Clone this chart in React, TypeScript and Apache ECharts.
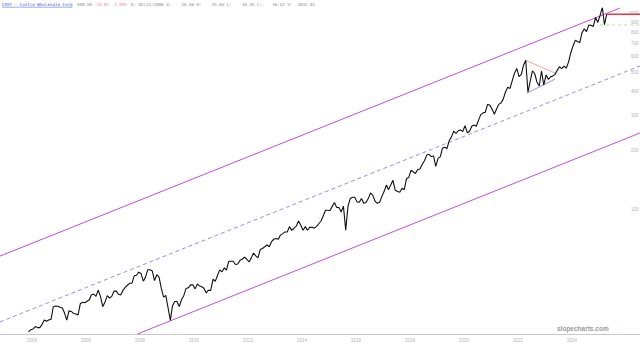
import React, { useEffect, useRef } from "react";
import * as echarts from "echarts";

// monthly (mid-month) adjusted closes, starting Nov 2003
const firstYear = 2003;
const firstMonthIndex = 10; // November
const p2003 = [23.6, 24.2];
const p2004 = [24.4, 25.1, 24.8, 24.8, 25.7, 27.1, 26.7, 27.1, 27.4, 31.7, 32.0, 31.9];
const p2005 = [31.5, 31.2, 29.5, 27.1, 30.2, 30.0, 29.3, 29.1, 28.8, 32.8, 33.4, 33.2];
const p2006 = [33.8, 34.4, 36.5, 36.8, 35.8, 38.5, 35.8, 31.7, 33.5, 36.1, 35.1, 35.8];
const p2007 = [38.1, 38.1, 36.7, 36.4, 38.4, 39.8, 40.8, 41.8, 41.8, 45.6, 45.9, 47.6];
const p2008 = [46.9, 42.8, 44.9, 49.0, 49.0, 48.3, 43.1, 46.2, 44.9, 39.3, 35.5, 36.2];
const p2009 = [31.3, 27.0, 32.0, 33.7, 33.7, 31.8, 34.4, 36.1, 39.3, 39.6, 41.0, 41.0];
const p2010 = [39.1, 41.4, 40.5, 40.1, 39.4, 37.3, 38.5, 38.4, 43.8, 42.7, 45.9, 48.9];
const p2011 = [47.8, 50.1, 48.7, 54.1, 54.1, 54.1, 52.1, 52.4, 54.7, 55.4, 56.8, 55.4];
const p2012 = [53.7, 56.3, 59.6, 57.7, 56.3, 62.2, 62.9, 64.2, 65.5, 64.2, 68.2, 70.1];
const p2013 = [70.8, 70.1, 73.6, 74.9, 76.4, 76.4, 81.3, 77.8, 79.8, 81.9, 86.8, 82.6];
const p2014 = [77.9, 81.3, 77.9, 80.6, 80.6, 80.0, 81.3, 84.1, 86.9, 92.4, 98.6, 98.6];
const p2015 = [98.3, 103.5, 107.9, 101.8, 101.8, 96.6, 103.5, 78.0, 103.5, 113.1, 114.8, 114.8];
const p2016 = [108.8, 108.3, 113.1, 107.0, 107.9, 113.1, 120.9, 117.5, 109.6, 107.0, 108.3, 115.7];
const p2017 = [122.8, 132.6, 125.5, 132.6, 140.2, 124.6, 122.8, 121.9, 127.7, 125.5, 143.3, 145.1];
const p2018 = [158.2, 154.6, 151.8, 159.2, 160.1, 169.3, 176.6, 188.6, 190.4, 185.4, 186.8, 165.1];
const p2019 = [181.5, 185.3, 204.3, 207.1, 203.3, 223.3, 233.7, 249.9, 243.2, 250.8, 253.7, 248.9];
const p2020 = [266.8, 245.4, 248.8, 264.8, 268.7, 264.8, 283.7, 303.6, 309.9, 312.3, 342.4, 339.5];
const p2021 = [323.7, 304.9, 323.7, 342.5, 348.0, 364.3, 396.0, 418.8, 413.3, 452.9, 496.0, 522.7];
const p2022 = [475, 488, 541, 575, 395, 450, 508.5, 491, 444, 425, 507, 429];
const p2023 = [485, 460, 472, 478, 486, 511, 533, 521.5, 537, 524, 563, 627];
const p2024 = [681, 729, 718, 708.5, 794, 833, 805.5, 870, 869, 856.5, 952.5, 898];
const p2025 = [975, 1070, 875, 990];

const monthlyPrices = [
  ...p2003, ...p2004, ...p2005, ...p2006, ...p2007, ...p2008, ...p2009, ...p2010,
  ...p2011, ...p2012, ...p2013, ...p2014, ...p2015, ...p2016, ...p2017, ...p2018,
  ...p2019, ...p2020, ...p2021, ...p2022, ...p2023, ...p2024, ...p2025,
];

const xAxisMin = "2002-10-25";
const xAxisMax = "2026-07-09";
const yAxisMin = 23.0;
const yAxisMax = 1064;

const xTickLabels = ["2004", "2006", "2008", "2010", "2012", "2014", "2016", "2018", "2020", "2022", "2024"];
const yTickLabels = [100, 200, 300, 400, 500, 600, 700, 800, 900, 1000];
const yLabelDate = "2026-06-20";

const upperChannel = [["2002-10-25", 57.5], ["2025-10-12", 1064]];
const midChannel = [["2002-10-25", 26.5], ["2026-07-09", 538]];
const lowerChannel = [["2007-11-27", 23.0], ["2026-07-09", 244.6]];
const triangleTop = [["2022-04-05", 577], ["2023-05-15", 495]];
const triangleBottom = [["2022-05-01", 391], ["2023-05-15", 461]];
const supportLevel = 871;
const supportStart = "2025-01-15";

const headerName = "COST - Costco Wholesale Corp";
const headerLast = "990.50";
const headerChange = "-10.85 -1.09%";
const headerRest = "D: 02/21/2006 O:    16.56 H:    55.65 L:    16.45 C:    16.52 V:  2042.82";

function monthDate(i: number) {
  return Date.UTC(firstYear, firstMonthIndex + i, 15);
}
function ts(s: string) {
  return new Date(s + "T00:00:00Z").getTime();
}

export default function App() {
  const ref = useRef<HTMLDivElement>(null);
  useEffect(() => {
    if (!ref.current) return;
    const chart = echarts.init(ref.current, undefined, { renderer: "svg" });
    const priceData = monthlyPrices.map((v, i) => [monthDate(i), v]);
    const lastPoint = priceData[priceData.length - 1];
    const mono = "DejaVu Sans Mono";
    chart.setOption({
      animation: false,
      backgroundColor: "#ffffff",
      grid: { left: 0, right: 0, top: 8, bottom: 12, containLabel: false },
      xAxis: {
        type: "time",
        min: ts(xAxisMin),
        max: ts(xAxisMax),
        axisLine: { show: true, lineStyle: { color: "#c8c8c8", width: 1 } },
        axisTick: { show: false },
        axisLabel: { show: false },
        splitLine: { show: false },
      },
      yAxis: {
        type: "log",
        logBase: 10,
        min: yAxisMin,
        max: yAxisMax,
        axisLine: { show: false },
        axisTick: { show: false },
        axisLabel: { show: false },
        splitLine: { show: false },
      },
      graphic: [
        { type: "text", left: 2, top: 2, style: { text: headerName, fill: "#3a55c8", font: `4.2px ${mono}` } },
        { type: "line", shape: { x1: 2, y1: 7.2, x2: 72.5, y2: 7.2 }, style: { stroke: "#3a55c8", lineWidth: 0.5 } },
        { type: "text", left: 77, top: 2, style: { text: headerLast, fill: "#888", font: `4.2px ${mono}` } },
        { type: "text", left: 94, top: 2, style: { text: headerChange, fill: "#f08a8a", font: `4.2px ${mono}` } },
        { type: "text", left: 131, top: 2, style: { text: headerRest, fill: "#888", font: `4.2px ${mono}` } },
        {
          type: "text",
          left: 557,
          top: 325,
          style: { text: "slopecharts.com", fill: "#9a9a9a", font: "bold 6.5px 'Liberation Sans'" },
        },
      ],
      series: [
        { type: "line", data: upperChannel.map((d) => [ts(d[0] as string), d[1]]), showSymbol: false, silent: true, lineStyle: { color: "#c04fd8", width: 1 } },
        { type: "line", data: midChannel.map((d) => [ts(d[0] as string), d[1]]), showSymbol: false, silent: true, lineStyle: { color: "#8a6ad8", width: 0.8, type: [4, 3] } },
        { type: "line", data: lowerChannel.map((d) => [ts(d[0] as string), d[1]]), showSymbol: false, silent: true, lineStyle: { color: "#c04fd8", width: 1 } },
        { type: "line", data: triangleTop.map((d) => [ts(d[0] as string), d[1]]), showSymbol: false, silent: true, lineStyle: { color: "#f08a8a", width: 0.8 } },
        { type: "line", data: triangleBottom.map((d) => [ts(d[0] as string), d[1]]), showSymbol: false, silent: true, lineStyle: { color: "#7a74e0", width: 0.8 } },
        {
          type: "line",
          data: [[ts(supportStart), supportLevel], [ts(xAxisMax), supportLevel]],
          showSymbol: false,
          silent: true,
          lineStyle: { color: "#9ad89a", width: 0.8, type: [3, 3] },
        },
        { type: "line", data: priceData, showSymbol: false, silent: true, lineStyle: { color: "#111111", width: 1.1 } },
        {
          type: "line",
          data: [[lastPoint[0], lastPoint[1]], [ts(xAxisMax), lastPoint[1]]],
          showSymbol: false,
          silent: true,
          lineStyle: { color: "#e23a3a", width: 1.5 },
        },
        {
          type: "scatter",
          data: yTickLabels.map((v) => [ts(yLabelDate), v]),
          symbolSize: 1,
          silent: true,
          clip: false,
          itemStyle: { color: "rgba(0,0,0,0)" },
          label: {
            show: true,
            position: "inside",
            align: "right",
            verticalAlign: "middle",
            formatter: (p: any) => String(p.value[1]),
            fontSize: 4.5,
            color: "#999",
            fontFamily: "Liberation Sans",
          },
        },
        {
          type: "scatter",
          data: xTickLabels.map((y) => [ts(`${y}-01-01`), yAxisMin]),
          symbolSize: 1,
          silent: true,
          clip: false,
          itemStyle: { color: "rgba(0,0,0,0)" },
          label: {
            show: true,
            position: "bottom",
            distance: 3,
            formatter: (p: any) => String(new Date(p.value[0]).getUTCFullYear()),
            fontSize: 4.5,
            color: "#999",
            fontFamily: "Liberation Sans",
          },
        },
      ],
    });
    return () => chart.dispose();
  }, []);
  return <div ref={ref} style={{ width: 640, height: 346, position: "fixed", left: 0, top: 0 }} />;
}
